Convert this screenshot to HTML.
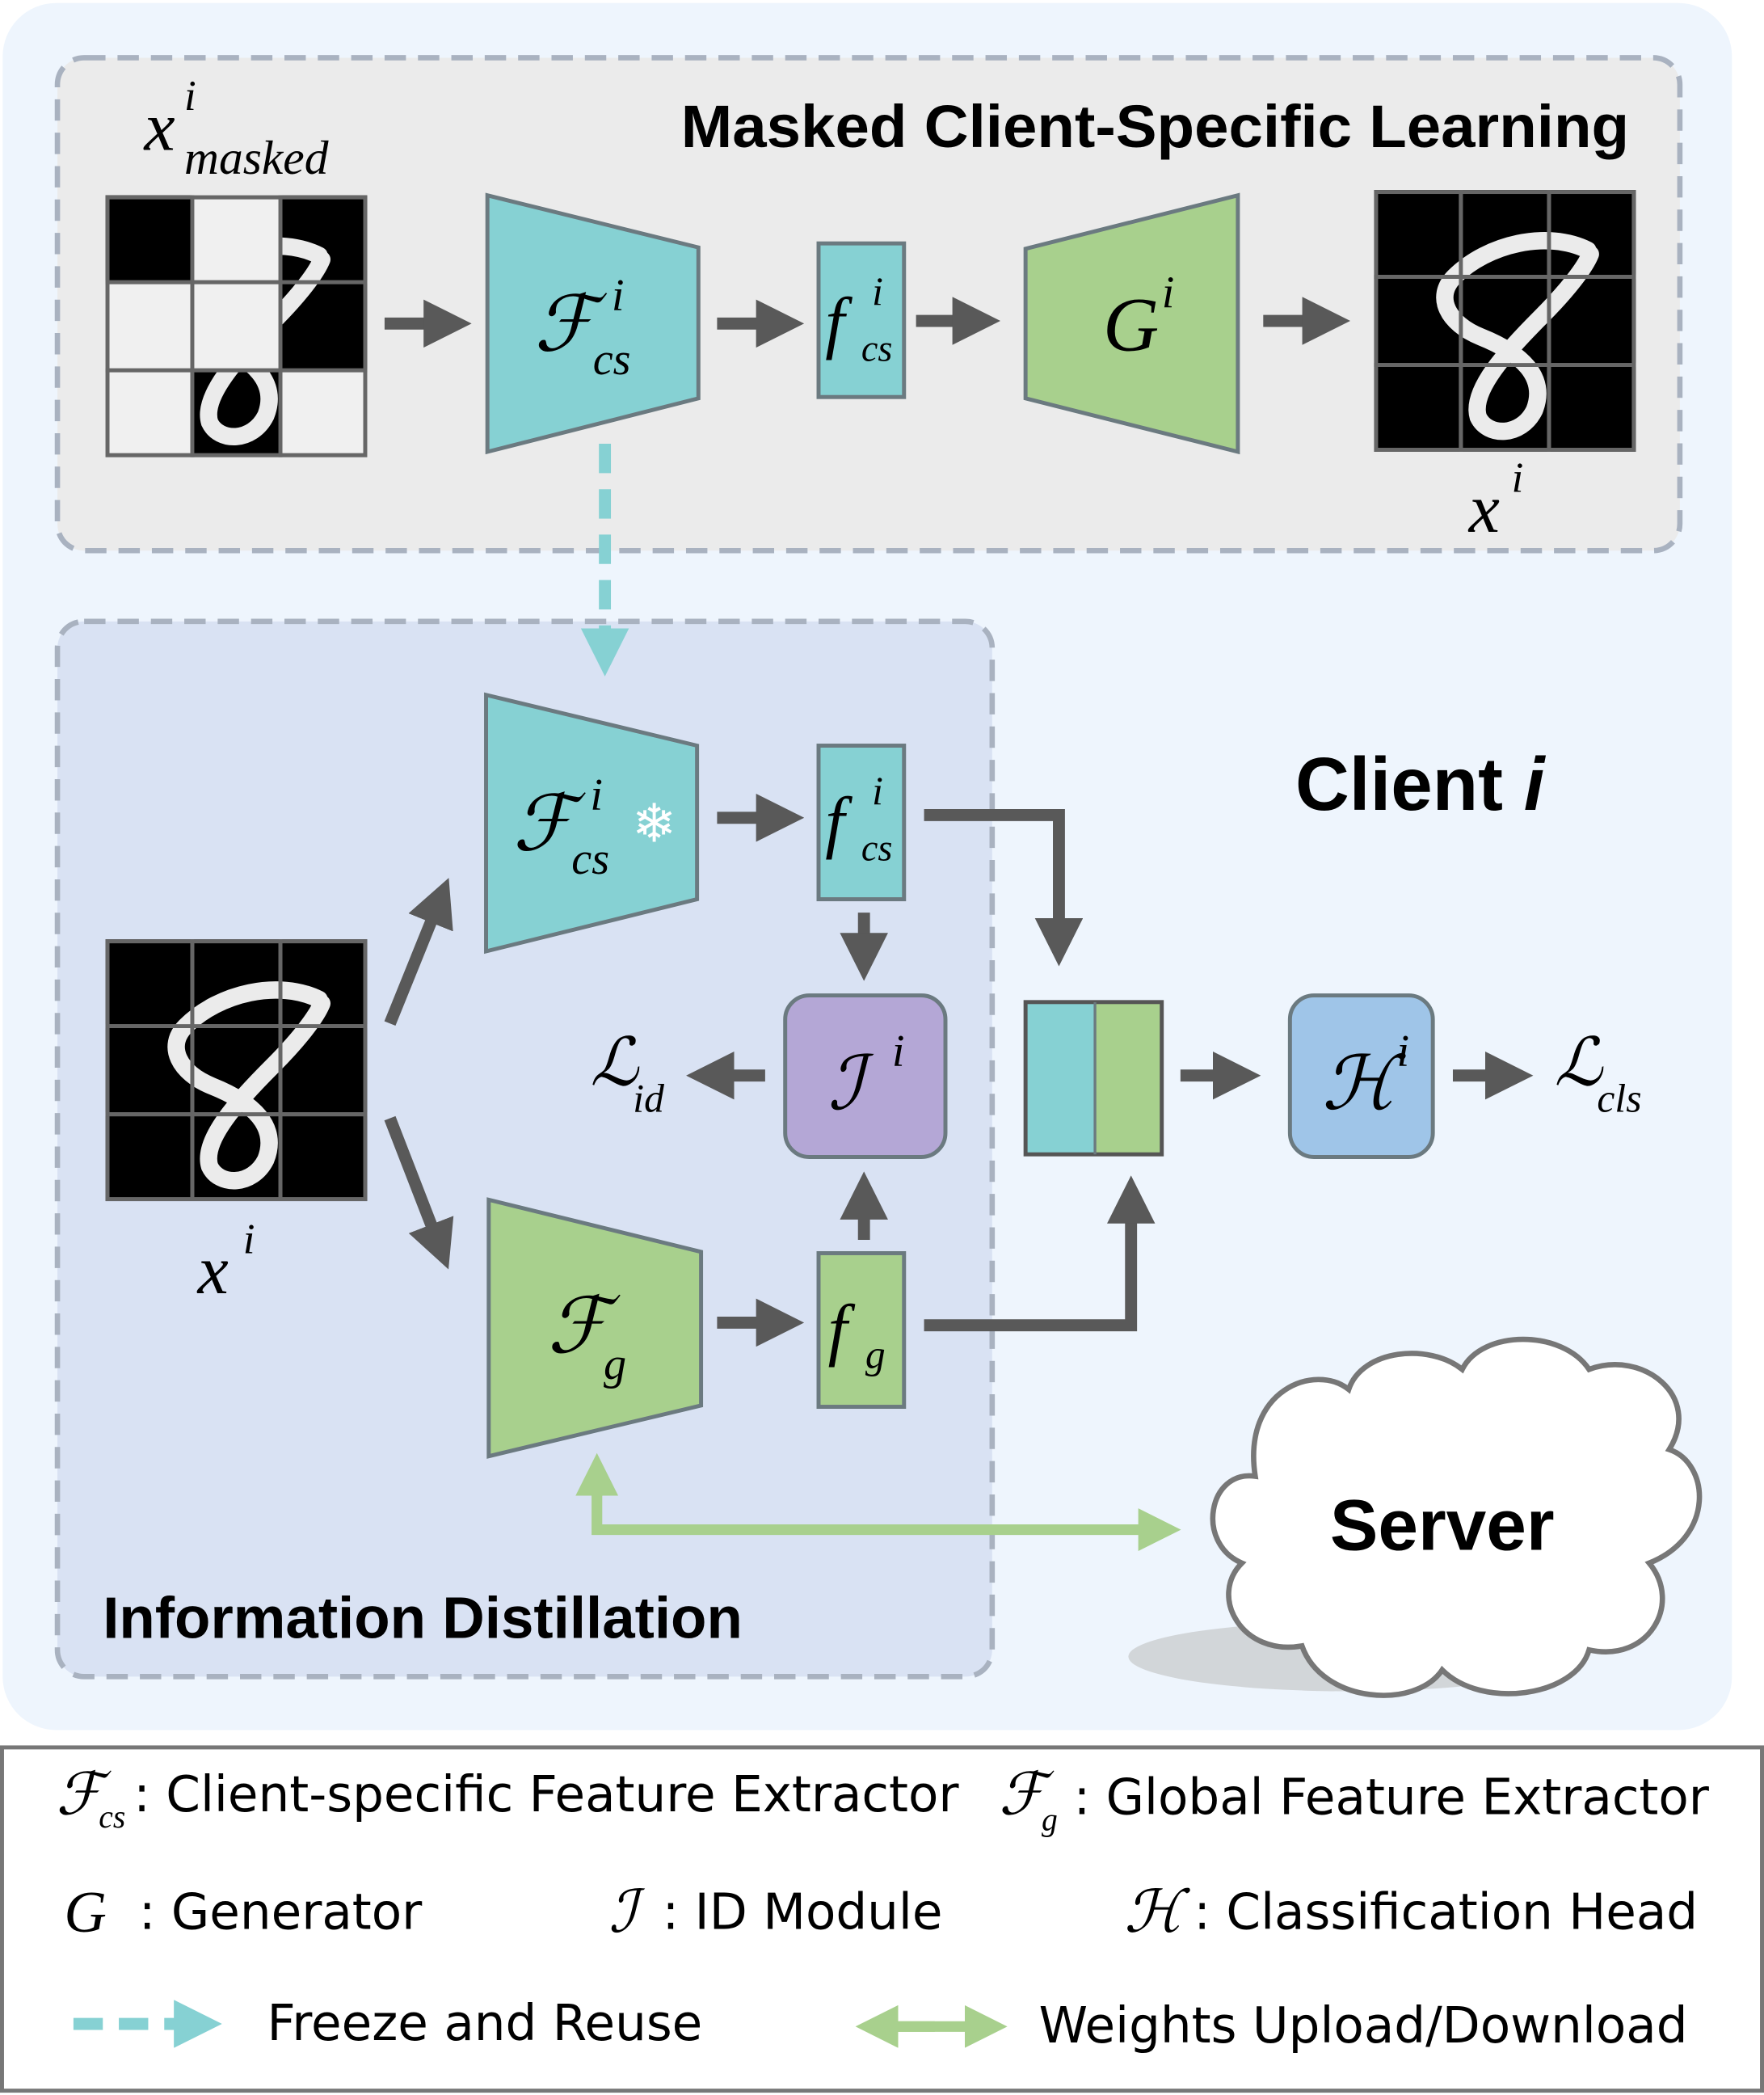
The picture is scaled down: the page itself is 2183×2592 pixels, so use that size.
<!DOCTYPE html>
<html><head><meta charset="utf-8"><style>
html,body{margin:0;padding:0;background:#fff}
svg{display:block}
.m{font-family:"DejaVu Serif","Liberation Serif",serif;font-style:italic}
.s{font-family:"Liberation Serif",serif;font-style:italic}
.b{font-family:"Liberation Sans","DejaVu Sans",sans-serif;font-weight:bold}
.n{font-family:"DejaVu Sans","Liberation Sans",sans-serif}
</style></head><body>
<svg width="2183" height="2592" viewBox="0 0 1321 1568" xmlns="http://www.w3.org/2000/svg">
<defs>
<marker id="ah" markerWidth="4" markerHeight="4" refX="2.2" refY="2" orient="auto" markerUnits="strokeWidth"><path d="M0,0 L4,2 L0,4 Z" fill="#595959"/></marker>
<marker id="at" markerWidth="4" markerHeight="4" refX="2.2" refY="2" orient="auto" markerUnits="strokeWidth"><path d="M0,0 L4,2 L0,4 Z" fill="#86d1d3"/></marker>
<marker id="ag" markerWidth="4" markerHeight="4" refX="2.2" refY="2" orient="auto" markerUnits="strokeWidth"><path d="M0,0 L4,2 L0,4 Z" fill="#a8d08d"/></marker>
<g id="digit"><path d="M160,45 C130,30 85,40 60,65 C45,80 55,100 80,110 C110,122 130,140 120,165 C110,185 85,185 78,170 C72,150 100,120 125,95 C145,75 158,58 162,48" fill="none" stroke="#fff" stroke-width="13" stroke-linecap="round" opacity="0.92"/></g>
<g id="grid"><rect x="0" y="0" width="196" height="196" fill="#000"/>
<g stroke="#666" stroke-width="3" fill="none"><rect x="1.5" y="1.5" width="193" height="193"/><line x1="65" y1="0" x2="65" y2="196"/><line x1="131" y1="0" x2="131" y2="196"/><line x1="0" y1="65" x2="196" y2="65"/><line x1="0" y1="131" x2="196" y2="131"/></g></g>
</defs>
<rect x="0" y="0" width="1321" height="1568" fill="#fff"/>
<rect x="2" y="2" width="1295" height="1293" rx="40" fill="#eef5fd"/>
<rect x="43" y="43" width="1215" height="369" rx="20" fill="#ebebeb" stroke="#a9b2c0" stroke-width="4" stroke-dasharray="16,9"/>
<text x="510" y="110" class="b" font-size="45" textLength="710" lengthAdjust="spacingAndGlyphs">Masked Client-Specific Learning</text>
<text x="108" y="112" class="s" font-size="52">x</text><text x="138" y="82" class="s" font-size="32">i</text><text x="138" y="130" class="s" font-size="36">masked</text>
<g transform="translate(79,146)">
<rect width="196" height="196" fill="#000"/>
<use href="#digit"/>
<rect x="65" y="0" width="66" height="65" fill="#f0f0f0"/>
<rect x="0" y="65" width="131" height="66" fill="#f0f0f0"/>
<rect x="0" y="131" width="65" height="65" fill="#f0f0f0"/>
<rect x="131" y="131" width="65" height="65" fill="#f0f0f0"/>
<rect x="0" y="0" width="65" height="65" fill="#000"/>
<g stroke="#666" stroke-width="3" fill="none"><rect x="1.5" y="1.5" width="193" height="193"/><line x1="65" y1="0" x2="65" y2="196"/><line x1="131" y1="0" x2="131" y2="196"/><line x1="0" y1="65" x2="196" y2="65"/><line x1="0" y1="131" x2="196" y2="131"/></g>
</g>
<rect x="43" y="465" width="700" height="790" rx="20" fill="#d9e2f3" stroke="#a9b2c0" stroke-width="4" stroke-dasharray="16,9"/>
<g stroke="#595959" stroke-width="9" fill="none" marker-end="url(#ah)">
<line x1="288" y1="242" x2="337" y2="242"/>
<line x1="537" y1="242" x2="586" y2="242"/>
<line x1="686" y1="240" x2="733" y2="240"/>
<line x1="946" y1="240" x2="995" y2="240"/>
<line x1="537" y1="612" x2="586" y2="612"/>
<line x1="537" y1="990" x2="586" y2="990"/>
<line x1="647" y1="683" x2="647" y2="718"/>
<line x1="647" y1="928" x2="647" y2="893"/>
<line x1="573" y1="805" x2="530" y2="805"/>
<polyline points="692,610 793,610 793,707"/>
<polyline points="692,992 847,992 847,896"/>
<line x1="292" y1="766" x2="330" y2="672"/>
<line x1="292" y1="837" x2="330" y2="935"/>
<line x1="884" y1="805" x2="928" y2="805"/>
<line x1="1088" y1="805" x2="1132" y2="805"/>
</g>
<polygon points="365,146 523,185 523,298 365,338" fill="#86d1d3" stroke="#6b7a80" stroke-width="3"/>
<text x="400" y="262" class="m" font-size="58">ℱ</text><text x="458" y="232" class="s" font-size="34">i</text><text x="444" y="280" class="s" font-size="34">cs</text>
<rect x="613" y="182" width="64" height="115" fill="#86d1d3" stroke="#6b7a80" stroke-width="3"/>
<text x="618" y="258" class="s" font-size="52">f</text><text x="653" y="228" class="s" font-size="30">i</text><text x="645" y="270" class="s" font-size="28">cs</text>
<polygon points="768,186 927,146 927,338 768,298" fill="#a8d08d" stroke="#6b7a80" stroke-width="3"/>
<text x="826" y="262" class="s" font-size="58">G</text><text x="870" y="230" class="s" font-size="34">i</text>
<g transform="translate(1029,142)"><use href="#grid"/><use href="#digit"/><g stroke="#666" stroke-width="3" fill="none"><line x1="65" y1="0" x2="65" y2="196"/><line x1="131" y1="0" x2="131" y2="196"/><line x1="0" y1="65" x2="196" y2="65"/><line x1="0" y1="131" x2="196" y2="131"/></g></g>
<text x="1100" y="398" class="s" font-size="52">x</text><text x="1132" y="368" class="s" font-size="32">i</text>
<line x1="453" y1="332" x2="453" y2="490" stroke="#86d1d3" stroke-width="9" stroke-dasharray="22,12" marker-end="url(#at)"/>
<text x="970" y="606" class="b" font-size="56">Client <tspan font-style="italic">i</tspan></text>
<polygon points="364,520 522,558 522,673 364,712" fill="#86d1d3" stroke="#6b7a80" stroke-width="3"/>
<text x="384" y="636" class="m" font-size="58">ℱ</text><text x="442" y="606" class="s" font-size="34">i</text><text x="428" y="654" class="s" font-size="34">cs</text>
<text x="490" y="630" text-anchor="middle" class="n" font-size="40" fill="#fff">❄</text>
<rect x="613" y="558" width="64" height="115" fill="#86d1d3" stroke="#6b7a80" stroke-width="3"/>
<text x="618" y="632" class="s" font-size="52">f</text><text x="653" y="602" class="s" font-size="30">i</text><text x="645" y="644" class="s" font-size="28">cs</text>
<rect x="588" y="745" width="120" height="121" rx="18" fill="#b4a7d6" stroke="#6b7a80" stroke-width="3"/>
<text x="620" y="830" class="m" font-size="56">ℐ</text><text x="668" y="798" class="s" font-size="34">i</text>
<text x="442" y="812" class="m" font-size="50">ℒ</text><text x="474" y="832" class="s" font-size="30">id</text>
<g transform="translate(79,703)"><use href="#grid"/><use href="#digit"/><g stroke="#666" stroke-width="3" fill="none"><line x1="65" y1="0" x2="65" y2="196"/><line x1="131" y1="0" x2="131" y2="196"/><line x1="0" y1="65" x2="196" y2="65"/><line x1="0" y1="131" x2="196" y2="131"/></g></g>
<text x="148" y="968" class="s" font-size="52">x</text><text x="182" y="938" class="s" font-size="32">i</text>
<polygon points="366,898 525,937 525,1052 366,1090" fill="#a8d08d" stroke="#6b7a80" stroke-width="3"/>
<text x="410" y="1012" class="m" font-size="58">ℱ</text><text x="452" y="1032" class="s" font-size="34">g</text>
<rect x="613" y="938" width="64" height="115" fill="#a8d08d" stroke="#6b7a80" stroke-width="3"/>
<text x="620" y="1012" class="s" font-size="52">f</text><text x="648" y="1024" class="s" font-size="30">g</text>
<rect x="768" y="750" width="52" height="114" fill="#86d1d3"/><rect x="820" y="750" width="50" height="114" fill="#a8d08d"/>
<rect x="768" y="750" width="102" height="114" fill="none" stroke="#555" stroke-width="3"/><line x1="820" y1="750" x2="820" y2="864" stroke="#6b7a80" stroke-width="2"/>
<rect x="966" y="745" width="107" height="121" rx="18" fill="#9fc5e8" stroke="#6b7a80" stroke-width="3"/>
<text x="990" y="830" class="m" font-size="56">ℋ</text><text x="1046" y="798" class="s" font-size="34">i</text>
<text x="1164" y="812" class="m" font-size="50">ℒ</text><text x="1196" y="832" class="s" font-size="30">cls</text>
<ellipse cx="1010" cy="1240" rx="165" ry="26" fill="#bbb" opacity="0.55"/>
<path d="M940,1105 C905,1100 895,1155 930,1170 C905,1195 930,1240 975,1232 C990,1275 1060,1280 1080,1250 C1110,1280 1180,1270 1190,1235 C1235,1245 1260,1200 1235,1170 C1285,1150 1280,1095 1250,1085 C1275,1045 1230,1010 1190,1025 C1170,995 1110,995 1095,1025 C1070,1005 1020,1010 1010,1040 C985,1020 930,1040 940,1105 Z" fill="#fff" stroke="#777" stroke-width="4"/>
<text x="1080" y="1160" text-anchor="middle" class="b" font-size="54">Server</text>
<polyline points="447,1100 447,1145 870,1145" fill="none" stroke="#a8d08d" stroke-width="8" marker-end="url(#ag)"/>
<line x1="447" y1="1120" x2="447" y2="1102" stroke="#a8d08d" stroke-width="8" marker-end="url(#ag)"/>
<text x="77" y="1226" class="b" font-size="44">Information Distillation</text>
<rect x="1.5" y="1308" width="1318" height="257" fill="#fff" stroke="#777" stroke-width="3"/>
<text x="42" y="1358" class="m" font-size="44">ℱ</text><text x="74" y="1368" class="s" font-size="24">cs</text>
<text x="100" y="1356" class="n" font-size="37">: Client-specific Feature Extractor</text>
<text x="748" y="1358" class="m" font-size="44">ℱ</text><text x="780" y="1370" class="s" font-size="24">g</text>
<text x="804" y="1358" class="n" font-size="37">: Global Feature Extractor</text>
<text x="48" y="1446" class="s" font-size="44">G</text><text x="104" y="1444" class="n" font-size="37">: Generator</text>
<text x="456" y="1446" class="m" font-size="44">ℐ</text><text x="496" y="1444" class="n" font-size="37">: ID Module</text>
<text x="842" y="1446" class="m" font-size="44">ℋ</text><text x="894" y="1444" class="n" font-size="37">: Classification Head</text>
<line x1="55" y1="1515" x2="150" y2="1515" stroke="#86d1d3" stroke-width="9" stroke-dasharray="22,12" marker-end="url(#at)"/>
<text x="200" y="1527" class="n" font-size="37">Freeze and Reuse</text>
<line x1="660" y1="1517" x2="740" y2="1517" stroke="#a8d08d" stroke-width="8" marker-end="url(#ag)"/>
<line x1="700" y1="1517" x2="655" y2="1517" stroke="#a8d08d" stroke-width="8" marker-end="url(#ag)"/>
<text x="778" y="1529" class="n" font-size="37">Weights Upload/Download</text>
</svg>
</body></html>
